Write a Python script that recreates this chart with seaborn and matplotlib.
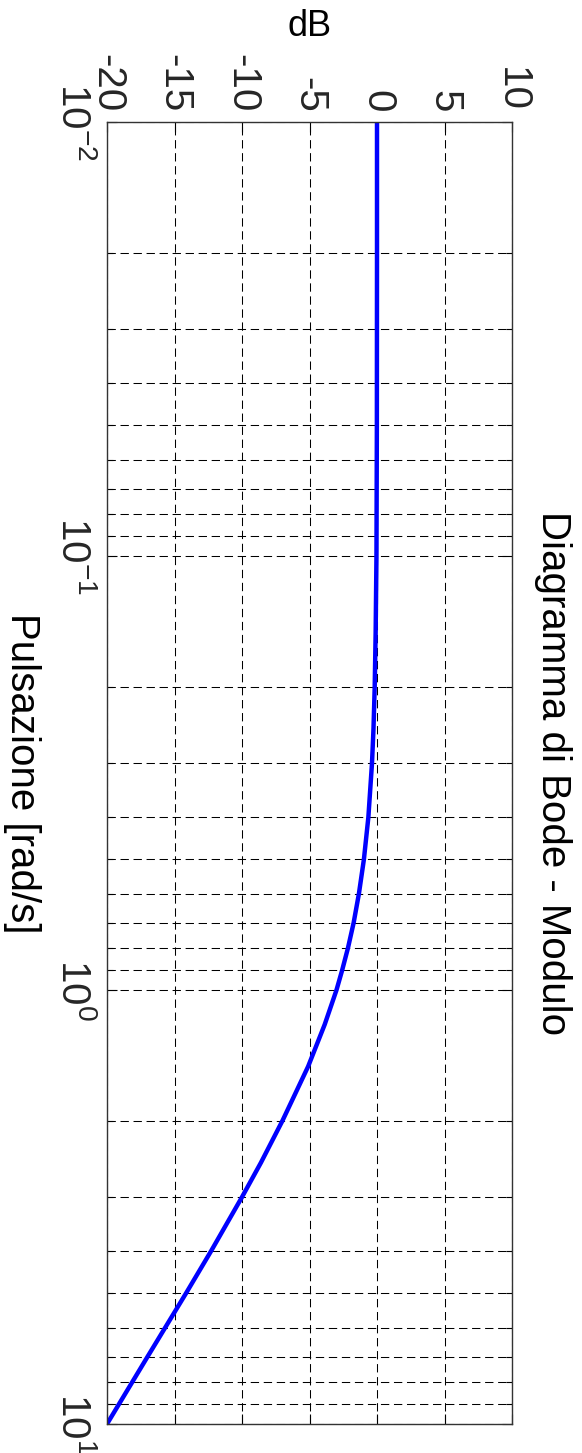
import matplotlib
matplotlib.use("Agg")
import matplotlib.pyplot as plt
import matplotlib.ticker as mticker
import pandas as pd
import seaborn as sns

# Magnitude of the frequency response (dB) versus pulsation (rad/s)
pulsazione = [0.01, 0.02, 0.05, 0.1, 0.15, 0.2, 0.25, 0.3, 0.4, 0.5, 0.6, 0.7, 0.8, 0.9,
              1.0, 1.2, 1.5, 2.0, 2.5, 3.0, 4.0, 5.0, 7.0, 10.0]
modulo_db = [0.0, 0.0, -0.01, -0.04, -0.1, -0.17, -0.26, -0.37, -0.64, -0.97, -1.34, -1.73,
             -2.15, -2.58, -3.0, -3.87, -5.1, -7.0, -8.6, -10.0, -12.3, -14.15, -17.0, -20.0]

db_ticks = [-20, -15, -10, -5, 0, 5, 10]
db_labels = ["-20", "-15", "-10", "-5", "0", "5", "10"]
freq_ticks = [0.01, 0.1, 1, 10]
freq_labels = [r"$10^{-2}$", r"$10^{-1}$", r"$10^{0}$", r"$10^{1}$"]

sns.set_theme(style="white")
plt.rcParams["font.family"] = ["Liberation Sans", "DejaVu Sans"]
plt.rcParams["mathtext.default"] = "regular"

W, H = 582, 1453
fig = plt.figure(figsize=(W / 100, H / 100), dpi=100)
fig.patch.set_facecolor("white")

# The chart is laid out turned a quarter turn: pulsation runs down the page,
# magnitude runs left to right.
ax = fig.add_axes([107 / W, 1 - 1424 / H, (512 - 107) / W, (1424 - 122) / H])

df = pd.DataFrame({"w": pulsazione, "db": modulo_db})
sns.lineplot(data=df, x="db", y="w", sort=False, estimator=None,
             color="#0000ff", lw=3.2, ax=ax)

ax.set_yscale("log")
ax.set_ylim(10, 0.01)
ax.set_xlim(-20, 10)
ax.set_xlabel("")
ax.set_ylabel("")

fs = 29
ax.xaxis.tick_top()
ax.set_xticks(db_ticks, labels=db_labels, rotation=-90, ha="center", va="bottom", fontsize=fs)
ax.set_yticks(freq_ticks, labels=freq_labels, rotation=-90, ha="right", va="center", fontsize=fs)
ax.yaxis.set_minor_locator(mticker.LogLocator(base=10, subs=range(2, 10), numticks=20))
ax.yaxis.set_minor_formatter(mticker.NullFormatter())

ax.tick_params(axis="x", which="major", top=True, bottom=True, labeltop=True,
               labelbottom=False, direction="in", length=7, width=0.8,
               color="black", pad=7)
ax.tick_params(axis="y", which="major", left=True, right=True, direction="in",
               length=7, width=0.8, color="black", pad=10)
ax.tick_params(axis="y", which="minor", left=True, right=True, direction="in",
               length=4, width=0.8, color="black")

dash = (0, (8, 4.5))
ax.grid(True, which="major", axis="x", color="black", linestyle=dash, linewidth=0.75)
ax.grid(True, which="both", axis="y", color="black", linestyle=dash, linewidth=0.75)
ax.set_axisbelow(True)

for sp in ax.spines.values():
    sp.set_visible(True)
    sp.set_color("#333333")
    sp.set_linewidth(1.0)

mid = 1 - 773 / H
fig.text(553 / W, mid, "Diagramma di Bode - Modulo", rotation=-90,
         ha="center", va="center", fontsize=fs, color="black")
fig.text(22 / W, mid, "Pulsazione [rad/s]", rotation=-90,
         ha="center", va="center", fontsize=fs, color="black")
fig.text(309.5 / W, 1 - 26 / H, "dB", ha="center", va="center",
         fontsize=26, color="black")

fig.savefig("out.png", dpi=100, facecolor="white")
